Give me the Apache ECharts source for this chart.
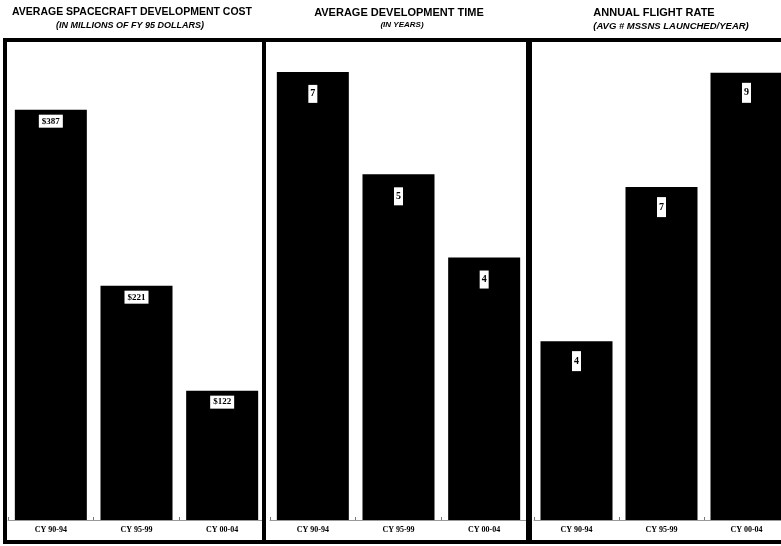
<!DOCTYPE html>
<html>
<head>
<meta charset="utf-8">
<script src="https://cdn.jsdelivr.net/npm/echarts@6/dist/echarts.min.js"></script>
<style>
html,body{margin:0;padding:0;background:#fff;overflow:hidden;}
#chart{width:800px;height:546px;}
</style>
</head>
<body>
<div id="chart"></div>
<script>
// ---- data ----
var categories = ['CY 90-94', 'CY 95-99', 'CY 00-04'];
var costValues = [387, 221, 122];          // $M (FY95)
var timeValues = [7.0, 5.4, 4.1];          // years (bar heights)
var rateValues = [3.6, 6.7, 9.0];          // missions / year (bar heights)
var costLabels = ['$387', '$221', '$122'];
var timeLabels = ['7', '5', '4'];
var rateLabels = ['4', '7', '9'];
var titles = ['AVERAGE SPACECRAFT DEVELOPMENT COST', 'AVERAGE DEVELOPMENT TIME', 'ANNUAL FLIGHT RATE'];
var subtitles = ['(IN MILLIONS OF FY 95 DOLLARS)', '(IN YEARS)', '(AVG # MSSNS LAUNCHED/YEAR)'];

var chart = echarts.init(document.getElementById('chart'), null, {renderer: 'canvas'});

var grids = [
  {left: 8, top: 45, width: 257, bottom: 26},
  {left: 270, top: 45, width: 257, bottom: 26},
  {left: 534, top: 45, width: 255, bottom: 26}
];
var maxes = [448, 7.42, 9.56];
var valueSets = [costValues, timeValues, rateValues];
var labelSets = [costLabels, timeLabels, rateLabels];
var labelDist = [5, 13, 10];
var labelPad = [[2, 3], [4, 2], [5, 2]];

var xAxes = [], yAxes = [], series = [];
for (var i = 0; i < 3; i++) {
  xAxes.push({
    type: 'category', gridIndex: i, data: categories,
    axisLine: {show: true, lineStyle: {color: '#999', width: 1}},
    axisTick: {show: true, length: 3, inside: true, lineStyle: {color: '#777'}},
    axisLabel: {color: '#000', fontFamily: 'Liberation Serif', fontWeight: 'bold', fontSize: 8, margin: 6}
  });
  yAxes.push({
    type: 'value', gridIndex: i, min: 0, max: maxes[i], show: false,
    splitLine: {show: false}
  });
  (function (idx) {
    series.push({
      type: 'bar', xAxisIndex: idx, yAxisIndex: idx,
      data: valueSets[idx], barWidth: 72,
      itemStyle: {color: '#000'},
      animation: false,
      label: {
        show: true, position: 'insideTop', distance: labelDist[idx],
        formatter: function (p) { return labelSets[idx][p.dataIndex]; },
        color: '#000', backgroundColor: '#fff',
        fontFamily: 'Liberation Serif', fontWeight: 'bold',
        fontSize: idx === 0 ? 9 : 10,
        padding: labelPad[idx]
      }
    });
  })(i);
}

var titleCenters = [132, 399, 654];
var titleSizes = [10.5, 11, 11];
var subCenters = [130, 402, 671];
var subSizes = [9, 8, 9.5];
var graphics = [];
for (var j = 0; j < 3; j++) {
  graphics.push({
    type: 'text', x: titleCenters[j], y: 7,
    style: {text: titles[j], fill: '#000', font: 'bold ' + titleSizes[j] + 'px "Liberation Sans", Arial, sans-serif', textAlign: 'center', textVerticalAlign: 'top'}
  });
  graphics.push({
    type: 'text', x: subCenters[j], y: 21,
    style: {text: subtitles[j], fill: '#000', font: 'italic bold ' + subSizes[j] + 'px "Liberation Sans", Arial, sans-serif', textAlign: 'center', textVerticalAlign: 'top'}
  });
}
// panel frames (decoration)
var frameRects = [
  [3, 38, 797, 4],   // top
  [3, 540, 797, 4],  // bottom
  [3, 38, 4, 506],   // left
  [262, 38, 4, 506], // divider 1
  [526, 38, 6, 506]  // divider 2
];
frameRects.forEach(function (r) {
  graphics.push({type: 'rect', shape: {x: r[0], y: r[1], width: r[2], height: r[3]}, style: {fill: '#000'}, z: 100});
});

chart.setOption({
  backgroundColor: '#fff',
  animation: false,
  grid: grids,
  xAxis: xAxes,
  yAxis: yAxes,
  series: series,
  graphic: graphics
});
</script>
</body>
</html>
